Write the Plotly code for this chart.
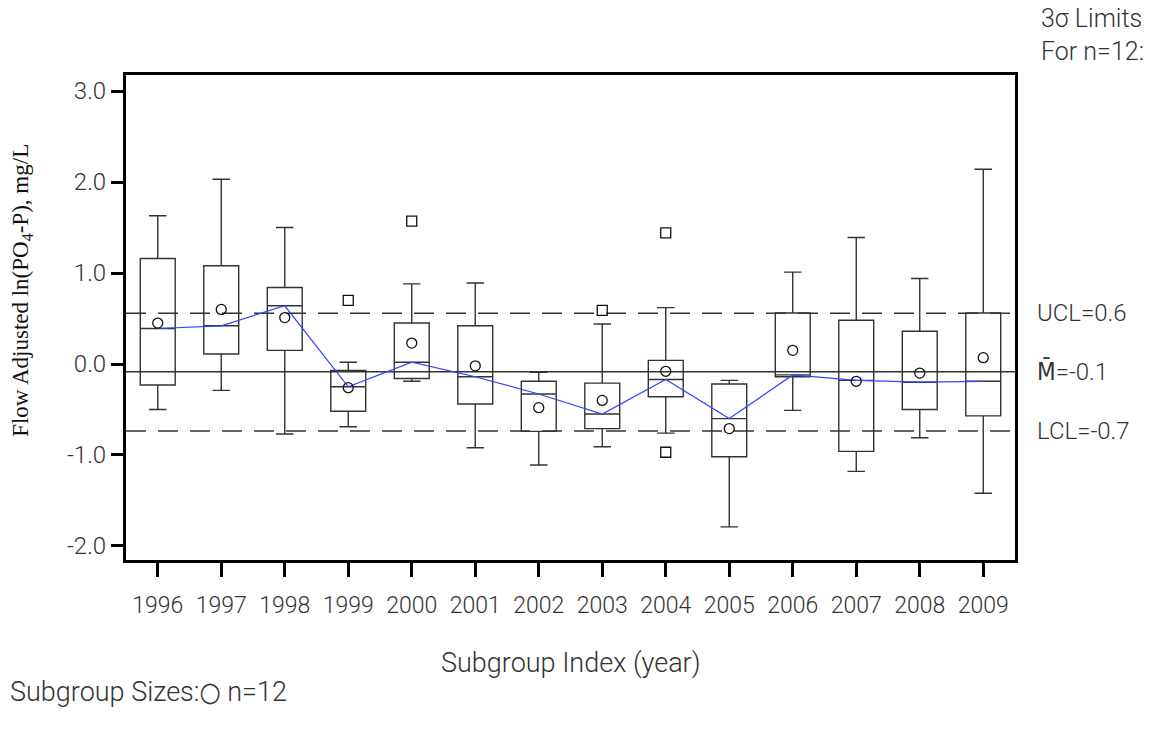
import plotly.graph_objects as go

years = [1996, 1997, 1998, 1999, 2000, 2001, 2002, 2003, 2004, 2005, 2006, 2007, 2008, 2009]
upper_whisker = [1.63, 2.03, 1.50, 0.02, 0.88, 0.89, -0.09, 0.44, 0.62, -0.18, 1.01, 1.39, 0.94, 2.14]
q3 = [1.16, 1.08, 0.84, -0.07, 0.45, 0.42, -0.19, -0.21, 0.04, -0.22, 0.56, 0.48, 0.36, 0.56]
median = [0.39, 0.42, 0.64, -0.25, 0.02, -0.14, -0.33, -0.55, -0.17, -0.60, -0.12, -0.18, -0.20, -0.19]
q1 = [-0.23, 0.11, 0.15, -0.52, -0.16, -0.44, -0.74, -0.71, -0.36, -1.02, -0.14, -0.96, -0.50, -0.57]
lower_whisker = [-0.50, -0.29, -0.77, -0.69, -0.19, -0.92, -1.11, -0.91, -0.76, -1.79, -0.51, -1.18, -0.81, -1.42]
means = [0.45, 0.60, 0.51, -0.26, 0.23, -0.02, -0.48, -0.40, -0.08, -0.71, 0.15, -0.19, -0.10, 0.07]

outlier_years = [1999, 2000, 2003, 2004, 2004]
outlier_values = [0.70, 1.57, 0.59, 1.44, -0.97]

ucl = 0.557
center = -0.085
lcl = -0.736
limit_labels = ["UCL=0.6", "M\u0304=-0.1", "LCL=-0.7"]

y_ticks = [3.0, 2.0, 1.0, 0.0, -1.0, -2.0]
y_ticktext = ["3.0", "2.0", "1.0", "0.0", "-1.0", "-2.0"]

narrow = "Roboto, Liberation Sans Narrow, DejaVu Sans Condensed, sans-serif"
ink = "#333333"

fig = go.Figure()

fig.add_trace(go.Box(
    x=years, q1=q1, median=median, q3=q3,
    lowerfence=lower_whisker, upperfence=upper_whisker,
    boxpoints=False, width=0.55, whiskerwidth=0.5,
    fillcolor="rgba(0,0,0,0)", line=dict(color=ink, width=1.4),
    showlegend=False, hoverinfo="skip",
))

fig.add_trace(go.Scatter(
    x=years, y=median, mode="lines",
    line=dict(color="#3344ff", width=1.2), showlegend=False,
))

fig.add_trace(go.Scatter(
    x=years, y=means, mode="markers",
    marker=dict(symbol="circle-open", size=10, color="#111111", line=dict(width=1.3)),
    showlegend=False,
))

fig.add_trace(go.Scatter(
    x=outlier_years, y=outlier_values, mode="markers",
    marker=dict(symbol="square-open", size=10, color="#111111", line=dict(width=1.3)),
    showlegend=False,
))

for val, dash in [(ucl, "20px,12px"), (center, "solid"), (lcl, "20px,12px")]:
    fig.add_shape(type="line", xref="paper", x0=0, x1=1, yref="y", y0=val, y1=val,
                  line=dict(color=ink, width=1.5, dash=dash), layer="below")

for val, txt in zip([ucl, center, lcl], limit_labels):
    fig.add_annotation(xref="paper", x=1, xanchor="left", xshift=20, yref="y", y=val,
                       yanchor="middle", text=txt, showarrow=False,
                       font=dict(family=narrow, size=24, color=ink, weight=300))

fig.add_annotation(xref="paper", x=1, xanchor="left", xshift=24, yref="paper", y=1,
                   yanchor="bottom", yshift=7, align="left",
                   text="3\u03c3 Limits<br>For n=12:", showarrow=False,
                   font=dict(family=narrow, size=25, color=ink, weight=300))

fig.add_annotation(xref="paper", x=0.5, xanchor="center", yref="paper", y=0,
                   yanchor="top", yshift=-85, text="Subgroup Index (year)", showarrow=False,
                   font=dict(family=narrow, size=27, color=ink, weight=300))

fig.add_annotation(xref="paper", x=-0.133, xanchor="left", yref="paper", y=0,
                   yanchor="top", yshift=-114, text="Subgroup Sizes:\u25cb n=12", showarrow=False,
                   font=dict(family=narrow, size=27, color=ink, weight=300))

fig.add_annotation(xref="paper", x=-0.117, xanchor="center", yref="paper", y=0.557,
                   yanchor="middle", textangle=-90,
                   text="Flow Adjusted ln(PO<sub>4</sub>-P), mg/L", showarrow=False,
                   font=dict(family="Liberation Serif, Times New Roman, serif", size=23, color="#111111"))

fig.update_layout(
    width=1161, height=740,
    margin=dict(l=126, r=146, t=75, b=180),
    paper_bgcolor="white", plot_bgcolor="white",
    xaxis=dict(range=[1995.5, 2009.5], tickvals=years, ticktext=[str(y) for y in years],
               tickangle=0, showgrid=False, zeroline=False, showline=True, mirror=True,
               linecolor="black", linewidth=3, ticks="outside", ticklen=14, tickwidth=3,
               ticklabelstandoff=8,
               tickcolor="black", tickfont=dict(family=narrow, size=23, color=ink, weight=300)),
    yaxis=dict(range=[-2.154, 3.176], tickvals=y_ticks, ticktext=y_ticktext,
               showgrid=False, zeroline=False, showline=True, mirror=True,
               linecolor="black", linewidth=3, ticks="outside", ticklen=12, tickwidth=3,
               tickcolor="black", tickfont=dict(family=narrow, size=24, color=ink, weight=300)),
)

fig.write_html("out.html")
